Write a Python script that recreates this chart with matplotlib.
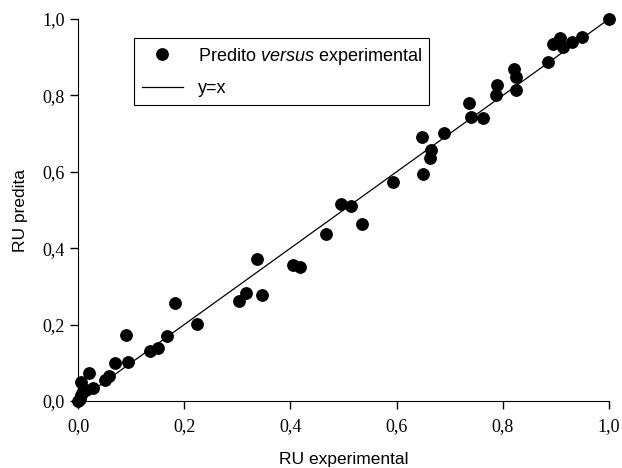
import numpy as np
import matplotlib
matplotlib.use("Agg")
import matplotlib.pyplot as plt

plt.rcParams['mathtext.fontset'] = 'custom'
plt.rcParams['mathtext.it'] = 'Liberation Sans:italic'
plt.rcParams['mathtext.rm'] = 'Liberation Sans'

# RU experimental vs RU predita
ru_exp = [0.000, 0.003, 0.006, 0.010, 0.015, 0.005, 0.021, 0.029, 0.051, 0.059,
          0.070, 0.095, 0.090, 0.136, 0.150, 0.167, 0.183, 0.225, 0.303, 0.316,
          0.338, 0.346, 0.404, 0.418, 0.467, 0.495, 0.514, 0.535, 0.593, 0.648,
          0.650, 0.663, 0.665, 0.689, 0.737, 0.741, 0.763, 0.787, 0.790, 0.822,
          0.824, 0.825, 0.886, 0.894, 0.908, 0.913, 0.930, 0.950, 1.000]
ru_pred = [0.000, 0.005, 0.015, 0.025, 0.030, 0.050, 0.073, 0.034, 0.055, 0.065,
           0.100, 0.103, 0.173, 0.132, 0.140, 0.171, 0.256, 0.201, 0.262, 0.283,
           0.371, 0.277, 0.356, 0.352, 0.437, 0.517, 0.511, 0.463, 0.574, 0.691,
           0.594, 0.636, 0.657, 0.701, 0.781, 0.743, 0.740, 0.800, 0.827, 0.869,
           0.814, 0.849, 0.888, 0.935, 0.949, 0.927, 0.941, 0.954, 1.000]
line_x = [0.0, 1.0]

fig = plt.figure(figsize=(6.22, 4.68), dpi=100)
ax = fig.add_axes([78/622, 1-401/468, 531/622, 382/468])

ax.plot(ru_exp, ru_pred, 'o', color='black', markersize=8.2,
        label='Predito $\\mathit{versus}$ experimental', clip_on=False, zorder=3)
ax.plot(line_x, line_x, '-', color='black', linewidth=0.9, label='y=x')

ax.set_xlim(0, 1)
ax.set_ylim(0, 1)
ticks = np.arange(0, 1.01, 0.2)
ax.set_xticks(ticks)
ax.set_yticks(ticks)
ax.set_xticklabels([f"{t:.1f}".replace('.', ',') for t in ticks])
ax.set_yticklabels([f"{t:.1f}".replace('.', ',') for t in ticks])
for lab in ax.get_xticklabels() + ax.get_yticklabels():
    lab.set_family('Liberation Serif')
    lab.set_fontsize(13)
ax.tick_params(direction='out', length=5.5, width=1)
ax.tick_params(axis='x', pad=7)
ax.tick_params(axis='y', pad=4)

ax.spines['top'].set_visible(False)
ax.spines['right'].set_visible(False)

ax.set_xlabel('RU experimental', family='Liberation Sans', fontsize=12.5, labelpad=12)
ax.set_ylabel('RU predita', family='Liberation Sans', fontsize=12.5, labelpad=10)

leg = ax.legend(loc='upper left', bbox_to_anchor=(0.1055, 0.9503), frameon=True,
                fancybox=False, edgecolor='black', framealpha=1,
                prop={'family': 'Liberation Sans', 'size': 13},
                borderpad=0.42, borderaxespad=0, handlelength=2.3,
                handletextpad=0.8, labelspacing=0.76)
leg.get_frame().set_linewidth(0.8)

fig.savefig('out.png', dpi=100)
